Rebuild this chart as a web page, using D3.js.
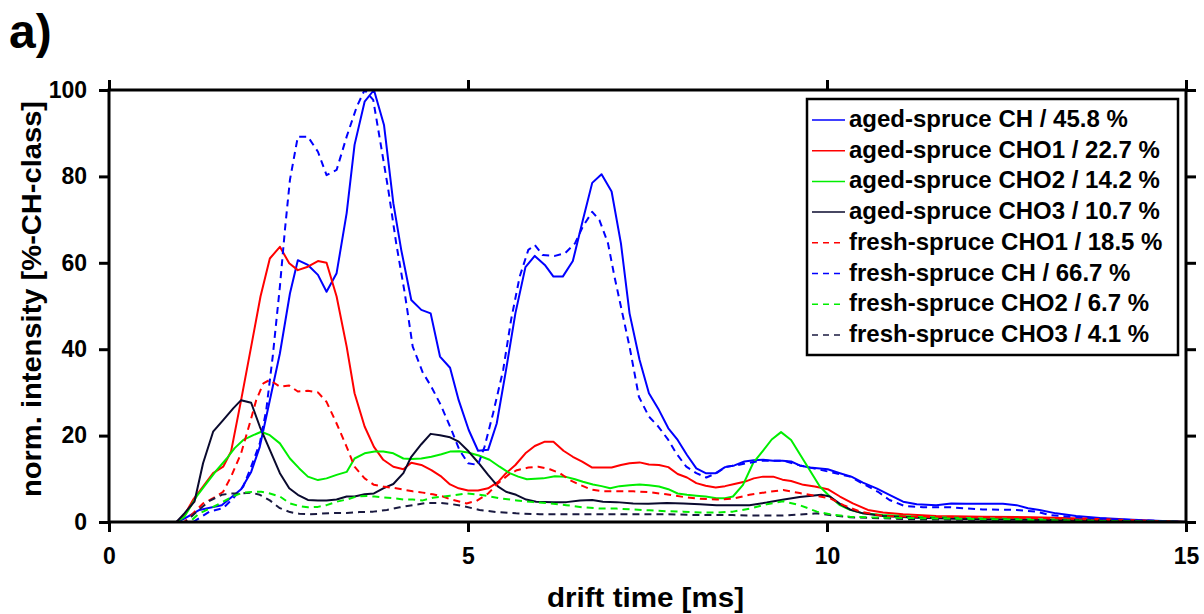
<!DOCTYPE html>
<html>
<head>
<meta charset="utf-8">
<script src="https://cdn.jsdelivr.net/npm/d3@7/dist/d3.min.js"></script>
<style>
  html, body { margin: 0; padding: 0; background: #fff; }
  svg { display: block; }
  text { font-family: Arial, "Liberation Sans", Helvetica, sans-serif; font-weight: bold; fill: #000; }
</style>
</head>
<body>
<svg id="chart" width="1204" height="614"></svg>
<script>
// ---- data: [drift time (ms), normalised intensity (%)] ----
const agedCH = [[0,0],[0.94,0],[1.05,0.8],[1.26,2.8],[1.57,3.9],[1.84,7.6],[1.98,11.6],[2.10,17.4],[2.24,28.2],[2.38,39],[2.52,52.9],[2.63,60.6],[2.77,59.5],[2.91,57.2],[3.03,53.3],[3.17,57.6],[3.31,71.5],[3.42,87.3],[3.56,97.3],[3.69,100],[3.83,91.9],[3.96,73.8],[4.07,63],[4.21,51.4],[4.35,49.1],[4.48,48.3],[4.61,38.3],[4.75,35.7],[4.87,28.2],[5.01,21.3],[5.14,16.5],[5.28,16.7],[5.40,22.8],[5.53,35.2],[5.66,48.3],[5.80,59],[5.93,61.6],[6.07,59.5],[6.19,56.8],[6.32,56.8],[6.46,60.4],[6.60,69.9],[6.73,78.5],[6.86,80.5],[7.00,76.5],[7.13,64.5],[7.25,48.3],[7.39,37.5],[7.52,29.8],[7.66,25.9],[7.79,21.7],[7.92,19],[8.05,15.5],[8.18,12.4],[8.31,11.3],[8.45,11.3],[8.58,12.7],[8.71,13.1],[8.85,14],[8.98,14.3],[9.11,14.4],[9.25,14.2],[9.38,14.2],[9.50,14],[9.62,13.1],[9.76,12.6],[10.01,12.2],[10.18,11.3],[10.34,10.5],[10.50,9.1],[10.69,7.8],[10.87,6.3],[11.06,4.7],[11.25,4.1],[11.52,3.9],[11.73,4.3],[11.94,4.2],[12.17,4.2],[12.45,4.2],[12.64,3.9],[12.80,3.2],[12.96,2.8],[13.19,2.0],[13.47,1.4],[13.80,0.9],[14.26,0.5],[15,0]];
const agedCHO1 = [[0,0],[0.94,0],[1.05,1.6],[1.17,5.1],[1.31,8.2],[1.45,11.3],[1.59,12.8],[1.70,16.3],[1.84,28.2],[1.98,40.6],[2.11,52.2],[2.24,61],[2.38,63.7],[2.51,59.9],[2.63,58.3],[2.77,59.1],[2.91,60.4],[3.03,60],[3.17,52.2],[3.31,40.6],[3.42,29.8],[3.56,22.1],[3.69,17.4],[3.82,14.4],[3.96,12.8],[4.10,12.2],[4.21,13.7],[4.35,13.2],[4.49,12],[4.63,10.5],[4.75,8.7],[4.87,7.8],[5.00,7.3],[5.14,7.3],[5.28,7.8],[5.42,9.3],[5.53,11.3],[5.66,13.2],[5.80,15.9],[5.93,17.6],[6.07,18.6],[6.19,18.6],[6.33,16.5],[6.46,15.1],[6.59,14],[6.73,12.6],[6.86,12.6],[7.00,12.6],[7.13,13.2],[7.25,13.6],[7.39,13.8],[7.52,13.3],[7.66,13.2],[7.79,12.7],[7.92,11.1],[8.05,10.3],[8.18,9],[8.31,8.4],[8.45,8],[8.58,8.3],[8.71,8.8],[8.85,9.3],[8.98,10.1],[9.11,10.5],[9.25,10.5],[9.38,9.8],[9.50,9.5],[9.67,8.6],[9.83,8.2],[10.01,7.6],[10.18,5.9],[10.36,4.3],[10.57,2.8],[10.78,2.2],[11.06,1.8],[11.52,1.4],[12.17,1.2],[12.87,1.1],[13.57,0.8],[14.26,0.4],[15,0]];
const agedCHO2 = [[0,0],[0.94,0],[1.05,1.2],[1.22,5.9],[1.36,9],[1.50,12],[1.64,14.7],[1.75,17.1],[1.87,19],[2.01,20.1],[2.12,20.9],[2.24,20.1],[2.38,18.2],[2.52,14.7],[2.65,12.4],[2.77,10.5],[2.91,9.7],[3.03,10.1],[3.17,10.9],[3.31,11.6],[3.42,14.7],[3.56,15.9],[3.70,16.3],[3.82,16.3],[3.96,15.9],[4.10,14.7],[4.21,14.6],[4.35,14.7],[4.49,15.1],[4.63,15.7],[4.75,16.3],[4.88,16.4],[5.00,16.1],[5.15,15.4],[5.30,14.4],[5.44,12.8],[5.58,11.3],[5.70,10.5],[5.82,9.9],[6.05,10.1],[6.21,10.6],[6.35,10.5],[6.49,9.9],[6.60,9.3],[6.74,8.7],[6.86,8.3],[6.98,7.8],[7.11,8.3],[7.25,8.5],[7.39,8.7],[7.52,8.5],[7.66,8.2],[7.79,7.6],[7.92,6.6],[8.05,6.3],[8.18,6.1],[8.31,5.9],[8.46,5.5],[8.58,5.5],[8.69,5.9],[8.83,8.6],[8.97,13.6],[9.11,16.5],[9.23,19.1],[9.36,20.8],[9.50,19],[9.67,14.4],[9.90,8.2],[10.04,5.9],[10.18,3.9],[10.32,2.8],[10.50,2.0],[10.78,1.6],[11.25,1.2],[12.17,0.8],[13.1,0.6],[15,0]];
const agedCHO3 = [[0,0],[0.94,0],[1.05,2],[1.19,4.7],[1.31,13.6],[1.45,20.9],[1.59,23.6],[1.73,26.3],[1.84,28.2],[1.98,27.6],[2.10,22.1],[2.24,16.7],[2.38,11.3],[2.51,7.8],[2.63,6.3],[2.77,5.1],[2.91,5.0],[3.03,5.0],[3.17,5.2],[3.31,5.9],[3.42,5.9],[3.56,6.4],[3.69,6.6],[3.82,7.8],[3.96,8.8],[4.10,11.3],[4.21,15.1],[4.35,18],[4.48,20.4],[4.61,20.1],[4.75,19.6],[4.87,18.6],[5.01,16.3],[5.15,13.6],[5.28,10.9],[5.42,8.2],[5.53,7],[5.67,6.3],[5.81,5.2],[5.95,4.7],[6.19,4.6],[6.37,4.6],[6.56,5.0],[6.73,5.1],[6.88,4.7],[7.07,4.6],[7.30,4.3],[7.51,4.2],[7.77,4.4],[8.00,4.3],[8.23,4.1],[8.46,3.9],[8.69,3.9],[8.92,3.9],[9.16,4.5],[9.40,5.2],[9.62,5.8],[9.92,6.3],[10.04,5.9],[10.18,4.2],[10.32,2.9],[10.50,2.0],[10.78,1.4],[11.25,1.0],[12.17,0.6],[13.57,0.4],[15,0]];
const freshCHO1 = [[0,0],[1.05,0],[1.17,2],[1.31,4.3],[1.45,5.5],[1.59,7],[1.70,10.5],[1.84,15.9],[1.96,22.8],[2.05,28.2],[2.15,32.1],[2.24,32.9],[2.38,31.3],[2.51,31.6],[2.63,30.2],[2.77,30.4],[2.91,30],[3.03,27.8],[3.17,22.8],[3.31,17.4],[3.42,12.8],[3.56,10.1],[3.69,8.6],[3.82,8.2],[3.96,7.9],[4.10,7.5],[4.23,7.1],[4.37,6.8],[4.51,6.4],[4.65,5.9],[4.75,5.3],[4.98,4.3],[5.12,4.9],[5.28,6.6],[5.42,9],[5.56,10.9],[5.68,12],[5.84,12.6],[5.98,12.8],[6.14,12.2],[6.28,11.3],[6.42,9.7],[6.56,8.6],[6.72,7.5],[6.88,7.1],[7.07,7.1],[7.30,7.1],[7.53,6.9],[7.76,6.4],[8.00,5.8],[8.23,5.4],[8.46,5.2],[8.69,5.4],[8.92,6.3],[9.16,6.9],[9.39,7.4],[9.62,6.7],[9.86,6.0],[10.04,5.5],[10.23,3.9],[10.46,2.4],[10.78,1.4],[11.25,1.2],[12.17,1.1],[13.1,0.8],[14.03,0.4],[15,0]];
const freshCH = [[0,0],[1.17,0],[1.40,2.4],[1.59,3.2],[1.73,5.5],[1.87,8.2],[1.98,12.8],[2.10,18.2],[2.19,25.9],[2.28,38.3],[2.38,54.5],[2.45,67.6],[2.52,79.2],[2.63,89.2],[2.77,89.2],[2.91,85.7],[3.03,80.3],[3.17,81.5],[3.31,89.2],[3.45,96.1],[3.56,100],[3.68,97.7],[3.79,86.9],[3.89,76.9],[4.00,64.5],[4.12,52.9],[4.23,40.6],[4.37,34.6],[4.49,31.3],[4.62,27.1],[4.75,22.1],[4.88,16.7],[5.00,13.6],[5.14,13.2],[5.23,17.4],[5.35,25.2],[5.49,35.2],[5.60,46.8],[5.72,56.8],[5.84,63],[5.93,64.1],[6.04,61.8],[6.21,61.6],[6.35,62.2],[6.49,64.5],[6.60,68.4],[6.73,71.8],[6.83,69.9],[6.95,64.5],[7.04,56.8],[7.15,48.3],[7.25,40.6],[7.38,29],[7.52,24.4],[7.65,22.1],[7.79,19],[7.90,15.9],[8.04,12.8],[8.18,11.3],[8.32,10.3],[8.46,11.3],[8.60,12.8],[8.74,13.1],[8.88,13.6],[9.09,14.2],[9.40,14.2],[9.62,13.1],[10.04,11.6],[10.32,10.5],[10.53,8.6],[10.71,7],[10.87,5.1],[11.08,3.7],[11.34,3.4],[11.72,3.4],[12.17,2.9],[12.64,2.8],[12.92,2.4],[13.10,1.6],[13.48,1.1],[14.03,0.6],[15,0]];
const freshCHO2 = [[0,0],[1.12,0],[1.26,2],[1.45,3.5],[1.59,4.7],[1.73,6],[1.87,6.8],[2.01,7],[2.12,7],[2.24,6.6],[2.38,5.9],[2.52,4.3],[2.65,3.7],[2.77,3.4],[2.91,3.5],[3.03,3.9],[3.17,4.7],[3.31,5.2],[3.45,5.9],[3.59,6.0],[3.70,5.9],[3.82,5.7],[3.96,5.5],[4.10,5.2],[4.23,5.2],[4.37,5.0],[4.51,5.6],[4.75,6.1],[4.98,6.6],[5.21,6.2],[5.44,5.5],[5.68,5],[5.91,4.6],[6.14,4.3],[6.37,3.9],[6.60,3.4],[6.84,3.1],[7.07,3.1],[7.30,2.9],[7.53,2.7],[7.76,2.5],[8.00,2.4],[8.23,2.2],[8.46,2.2],[8.69,2.4],[8.92,3.1],[9.16,4.1],[9.39,4.8],[9.62,3.9],[9.86,2.4],[10.04,1.8],[10.32,1.2],[10.78,1.0],[11.72,0.8],[13.1,0.4],[15,0]];
const freshCHO3 = [[0,0],[1.07,0],[1.22,2.4],[1.40,4.9],[1.57,6.3],[1.70,6.6],[1.84,6.6],[1.98,6.8],[2.10,6.3],[2.24,5.0],[2.38,3.2],[2.52,2.3],[2.65,1.9],[2.79,1.8],[2.93,1.9],[3.12,2.1],[3.31,2.1],[3.49,2.3],[3.68,2.4],[3.87,2.8],[4.05,3.4],[4.23,3.9],[4.42,4.4],[4.61,4.4],[4.75,4.2],[4.93,3.7],[5.16,2.8],[5.40,2.3],[5.67,2.0],[6.00,1.8],[6.37,1.8],[6.84,1.8],[7.30,1.8],[7.77,1.8],[8.23,1.6],[8.69,1.6],[8.92,1.5],[9.39,1.5],[9.86,2.0],[10.04,1.6],[10.32,1.1],[11.25,0.6],[13.1,0.4],[15,0]];

const seriesNames = ["aged-spruce CH / 45.8 %","aged-spruce CHO1 / 22.7 %","aged-spruce CHO2 / 14.2 %","aged-spruce CHO3 / 10.7 %","fresh-spruce CHO1 / 18.5 %","fresh-spruce CH / 66.7 %","fresh-spruce CHO2 / 6.7 %","fresh-spruce CHO3 / 4.1 %"];
const seriesData = [agedCH, agedCHO1, agedCHO2, agedCHO3, freshCHO1, freshCH, freshCHO2, freshCHO3];
const seriesColors = ["#0000ff","#ff0000","#00ee00","#0a0a2e","#ff0000","#0000ff","#00ee00","#1a1a40"];
const seriesDashed = [false,false,false,false,true,true,true,true];
const xTicks = [0,5,10,15];
const yTicks = [0,20,40,60,80,100];

// ---- layout ----
const svg = d3.select("#chart");
const L = 109, R = 1186, T = 90, B = 522;
const x = d3.scaleLinear().domain([0,15]).range([L,R]);
const y = d3.scaleLinear().domain([0,100]).range([B,T]);

// lines (draw order so fresh CHO2 ends on top)
const line = d3.line().x(d => x(d[0])).y(d => y(d[1]));
const order = [0,1,2,3,4,5,7,6];
const g = svg.append("g");
order.forEach(i => {
  g.append("path")
    .datum(seriesData[i])
    .attr("fill","none")
    .attr("stroke",seriesColors[i])
    .attr("stroke-width",2)
    .attr("stroke-linejoin","round")
    .attr("stroke-dasharray", seriesDashed[i] ? "7,5" : null)
    .attr("d", line);
});

// axes
const tickLen = 10;
const axStyle = sel => {
  sel.select(".domain").remove();
  sel.selectAll(".tick line").attr("stroke","#000").attr("stroke-width",3);
  sel.selectAll("text").style("font-size","23px").style("font-weight","bold");
};
svg.append("g").attr("transform",`translate(0,${B})`)
  .call(d3.axisBottom(x).tickValues(xTicks).tickSizeInner(tickLen).tickSizeOuter(0).tickPadding(16).tickFormat(d3.format("d")))
  .call(axStyle);
svg.append("g").attr("transform",`translate(0,${T})`)
  .call(d3.axisTop(x).tickValues(xTicks).tickSizeInner(tickLen).tickSizeOuter(0).tickFormat(""))
  .call(axStyle);
svg.append("g").attr("transform",`translate(${L},0)`)
  .call(d3.axisLeft(y).tickValues(yTicks).tickSizeInner(tickLen).tickSizeOuter(0).tickPadding(12).tickFormat(d3.format("d")))
  .call(axStyle);
svg.append("g").attr("transform",`translate(${R},0)`)
  .call(d3.axisRight(y).tickValues(yTicks).tickSizeInner(tickLen).tickSizeOuter(0).tickFormat(""))
  .call(axStyle);
svg.selectAll("text").attr("font-family","Arial, 'Liberation Sans', sans-serif");

// frame
svg.append("rect").attr("x",L).attr("y",T).attr("width",R-L).attr("height",B-T)
  .attr("fill","none").attr("stroke","#000").attr("stroke-width",3);

// labels
svg.append("text").attr("x",547).attr("y",607)
  .attr("textLength",197).attr("lengthAdjust","spacingAndGlyphs")
  .style("font-size","27px").text("drift time [ms]");
svg.append("text").attr("transform","translate(41,497) rotate(-90)")
  .attr("textLength",396).attr("lengthAdjust","spacingAndGlyphs")
  .style("font-size","27px").text("norm. intensity [%-CH-class]");
svg.append("text").attr("x",9).attr("y",48).style("font-size","48px").text("a)");

// legend
const lg = svg.append("g");
lg.append("rect").attr("x",807).attr("y",99).attr("width",371).attr("height",256)
  .attr("fill","#fff").attr("stroke","#000").attr("stroke-width",2.5);
seriesNames.forEach((name,i) => {
  const cy = 120 + i*30.7;
  lg.append("line").attr("x1",812).attr("x2",845).attr("y1",cy).attr("y2",cy)
    .attr("stroke",seriesColors[i]).attr("stroke-width",1.5)
    .attr("stroke-dasharray", seriesDashed[i] ? "6,5" : null);
  lg.append("text").attr("x",849).attr("y",cy+7).style("font-size","24px").text(name);
});
</script>
</body>
</html>
